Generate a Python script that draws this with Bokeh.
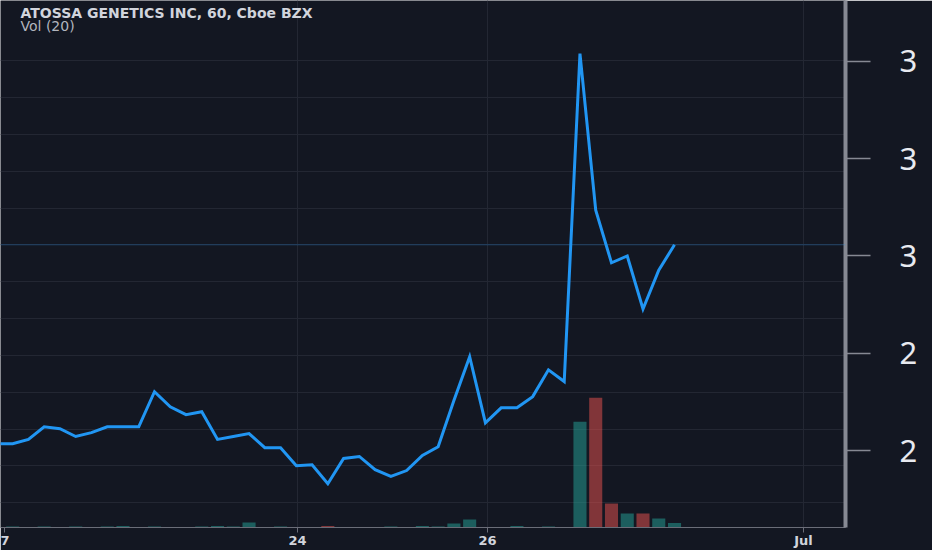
from bokeh.plotting import figure
from bokeh.models import Range1d, FixedTicker, Span, Label, ColumnDataSource
from bokeh.embed import file_html
from bokeh.resources import INLINE

# ---------------- data ----------------
title_text = "ATOSSA GENETICS INC, 60, Cboe BZX"
volume_title = "Vol (20)"

bar_index = list(range(44))
close = [2.614, 2.614, 2.623, 2.649, 2.645, 2.629, 2.637, 2.649, 2.649, 2.649,
         2.721, 2.690, 2.674, 2.680, 2.623, 2.629, 2.635, 2.606, 2.606, 2.569,
         2.571, 2.532, 2.584, 2.588, 2.561, 2.547, 2.559, 2.590, 2.608, 2.703,
         2.793, 2.657, 2.688, 2.688, 2.711, 2.766, 2.742, 3.416, 3.094, 2.986,
         3.000, 2.891, 2.971, 3.023]
volume = [0, 10000, 0, 10000, 0, 10000, 0, 10000, 15000, 0,
          10000, 0, 0, 10000, 15000, 10000, 50000, 0, 10000, 0,
          0, 15000, 0, 0, 0, 10000, 0, 15000, 10000, 40000,
          80000, 0, 0, 15000, 0, 10000, 0, 1060000, 1300000, 240000,
          140000, 140000, 90000, 45000]
volume_up = [True] * 44
for k in (21, 38, 39, 41):
    volume_up[k] = False

x_tick_labels = ["7", "24", "26", "Jul"]
y_tick_values = [2.6, 2.8, 3.0, 3.2, 3.4]
y_tick_labels = ["2", "2", "3", "3", "3"]

# ---------------- layout / style ----------------
x_tick_pos = [0.48, 19.07, 31.13, 51.18]
grid_prices = [2.493, 2.569, 2.644, 2.719, 2.795, 2.871, 2.947, 3.023,
               3.098, 3.174, 3.250, 3.326, 3.402]

BG = "#131722"
GRID = "#232733"
UP = "#26a69a"
DOWN = "#ef5350"

p = figure(width=932, height=550,
           x_range=Range1d(0.228, 53.85), y_range=Range1d(2.442, 3.5251),
           output_backend="svg", toolbar_location=None,
           y_axis_location="right",
           background_fill_color=BG, border_fill_color=BG,
           outline_line_color=None,
           min_border_left=0, min_border_top=0,
           min_border_right=87, min_border_bottom=22)

p.extra_y_ranges = {"vol": Range1d(0, 5.28e6)}

# grid
p.ygrid.ticker = FixedTicker(ticks=grid_prices)
p.xgrid.ticker = FixedTicker(ticks=x_tick_pos[1:])
p.grid.grid_line_color = GRID
p.grid.grid_line_width = 1

# volume bars
src = ColumnDataSource(dict(
    x=bar_index, v=volume,
    c=[UP if u else DOWN for u in volume_up],
))
p.vbar(x="x", top="v", bottom=0, width=0.83, fill_color="c", fill_alpha=0.5,
       line_color=None, source=src, y_range_name="vol")

# last price line
p.add_layout(Span(location=close[-1], dimension="width",
                  line_color="#2196f3", line_alpha=0.3, line_width=1))

# price line
p.line(bar_index, close, line_color="#2196f3", line_width=3,
       line_join="miter")

# y axis (right)
ya = p.yaxis[0]
ya.ticker = FixedTicker(ticks=y_tick_values)
ya.major_label_overrides = {v: t for v, t in zip(y_tick_values, y_tick_labels)}
ya.axis_line_color = "#868993"
ya.axis_line_width = 4
ya.major_tick_line_color = "#868993"
ya.major_tick_line_width = 1.5
ya.major_tick_out = 25
ya.major_tick_in = 0
ya.minor_tick_line_color = None
ya.major_label_standoff = 29
ya.major_label_text_font = "Noto Sans"
ya.major_label_text_font_size = "31px"
ya.major_label_text_color = "#e8eaf0"

# x axis (bottom)
xa = p.xaxis[0]
xa.ticker = FixedTicker(ticks=x_tick_pos)
xa.major_label_overrides = {v: t for v, t in zip(x_tick_pos, x_tick_labels)}
xa.axis_line_color = "#6a6d78"
xa.axis_line_width = 1
xa.major_tick_line_color = "#6a6d78"
xa.major_tick_out = 5
xa.major_tick_in = 0
xa.minor_tick_line_color = None
xa.major_label_standoff = 0
xa.major_label_text_font = "DejaVu Sans"
xa.major_label_text_font_size = "13px"
xa.major_label_text_font_style = "bold"
xa.major_label_text_color = "#d1d4dc"

# legend texts
p.add_layout(Label(x=20, y=515, x_units="screen", y_units="screen",
                   text=title_text, text_baseline="middle",
                   text_font="DejaVu Sans", text_font_style="bold",
                   text_font_size="14px", text_color="#d1d4dc"))
p.add_layout(Label(x=20, y=502, x_units="screen", y_units="screen",
                   text=volume_title, text_baseline="middle",
                   text_font="DejaVu Sans",
                   text_font_size="14px", text_color="#b2b5be"))

open("out.html", "w").write(file_html(p, INLINE))
